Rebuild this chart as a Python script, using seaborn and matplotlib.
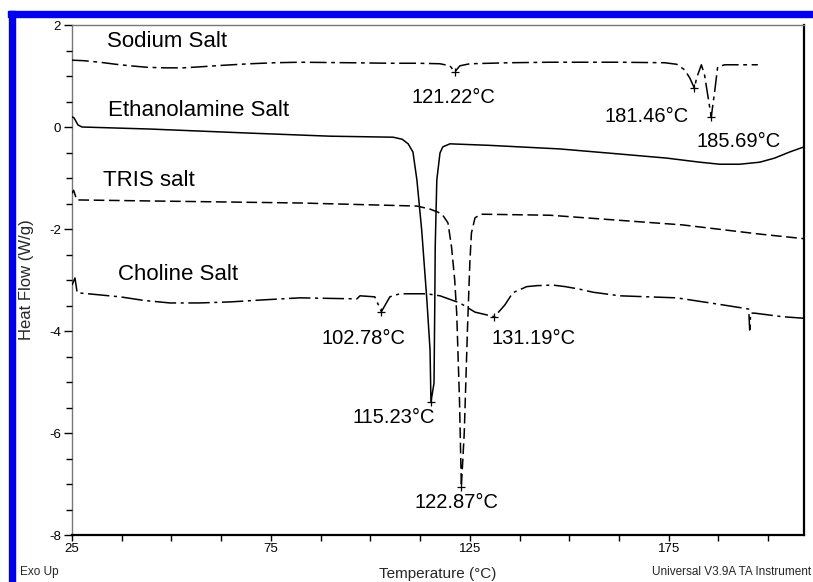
import matplotlib
matplotlib.use("Agg")
import matplotlib.pyplot as plt
import seaborn as sns
import pandas as pd
from matplotlib.patches import Rectangle
from matplotlib.ticker import MultipleLocator, FixedLocator

# ---------------- data ----------------
sodium_t = [25, 28.0, 32.0, 36.0, 39.6, 44.0, 48.4, 53.0, 57.2, 63.0, 69.7, 76.0, 82.3, 95.0,
            104.9, 112.0, 117.5, 120.0, 121.22, 122.5, 125.0, 135.0,
            145.1, 162.7, 174.0, 177.0, 179.0, 180.3, 181.46, 182.0, 183.2, 184.0, 185.0, 185.69,
            186.6, 187.3, 189.1, 197.4]
sodium_y = [1.31, 1.30, 1.27, 1.23, 1.20, 1.17, 1.16, 1.16, 1.18, 1.21, 1.24, 1.26, 1.27, 1.26,
            1.25, 1.25, 1.24, 1.20, 1.08, 1.20, 1.24, 1.26,
            1.27, 1.27, 1.26, 1.23, 1.12, 0.96, 0.76, 0.96, 1.22, 1.02, 0.53, 0.20,
            0.73, 1.18, 1.22, 1.22]

ethan_t = [25, 25.5, 26.5, 27.5, 44.6, 69.7, 89.8, 105.7, 108.0, 109.5, 110.7, 111.7, 112.9, 114.2,
           115.0, 115.23, 116.0, 116.2, 116.3, 116.7, 117.5, 118.2, 120.0, 130.0, 147.6, 162.7,
           174.5, 182.8, 187.8, 192.8, 197.9, 201.6, 205.4, 209.0]
ethan_y = [0.20, 0.18, 0.04, 0.00, -0.04, -0.12, -0.18, -0.20, -0.24, -0.33, -0.49, -1.04, -2.02, -3.39,
           -4.37, -5.39, -5.02, -3.39, -2.35, -1.04, -0.51, -0.39, -0.33, -0.36, -0.43, -0.53,
           -0.61, -0.69, -0.73, -0.73, -0.69, -0.61, -0.49, -0.39]

tris_t = [25, 25.4, 26.2, 44.6, 82.3, 111.7, 115.0, 117.0, 118.2, 119.5, 120.4, 121.2, 121.7,
          122.4, 122.87, 123.6, 124.4, 125.0, 125.4, 126.3, 127.9, 145.1, 178.5, 197.9, 209.0]
tris_y = [-1.30, -1.24, -1.43, -1.45, -1.49, -1.55, -1.61, -1.67, -1.73, -1.88, -2.35, -3.00, -3.65,
          -5.35, -7.05, -6.00, -3.98, -2.67, -2.08, -1.78, -1.71, -1.73, -1.92, -2.10, -2.19]

chol_t = [25, 25.75, 26.3, 37.1, 43.0, 49.6, 57.0, 64.7, 73.0, 82.3, 96.6, 97.4, 101.1, 102.78, 104.9,
          107.4, 114.2, 117.5, 122.5, 126.3, 131.19, 133.8, 135.8, 139.3, 142.0, 145.9, 149.0,
          152.6, 156.0, 162.7, 177.0, 187.1, 193.6, 195.1, 195.35, 195.6, 196.6, 203.6, 209.0]
chol_y = [-3.10, -2.96, -3.25, -3.33, -3.40, -3.45, -3.45, -3.43, -3.39, -3.35, -3.37, -3.31, -3.33,
          -3.62, -3.33, -3.27, -3.27, -3.31, -3.45, -3.63, -3.72, -3.49, -3.25, -3.13, -3.11, -3.10,
          -3.13, -3.18, -3.24, -3.31, -3.35, -3.47, -3.55, -3.57, -3.98, -3.65, -3.65, -3.72, -3.75]

peak_t = [121.22, 181.46, 185.69, 115.23, 122.87, 102.78, 131.19]
peak_y = [1.08, 0.76, 0.20, -5.39, -7.05, -3.62, -3.72]
peak_labels = ["121.22°C", "181.46°C", "185.69°C", "115.23°C", "122.87°C", "102.78°C", "131.19°C"]

series_names = ["Sodium Salt", "Ethanolamine Salt", "TRIS salt", "Choline Salt"]

x_ticks_major = [25, 75, 125, 175]
y_ticks_major = [2, 0, -2, -4, -6, -8]

# ---------------- figure ----------------
sns.set_theme(style="white")
plt.rcParams["font.family"] = ["Liberation Sans", "DejaVu Sans"]
plt.rcParams["axes.unicode_minus"] = False

fig = plt.figure(figsize=(8.13, 5.82), dpi=100)
ax = fig.add_axes([72 / 813, 1 - 535 / 582, (804 - 72) / 813, (535 - 25) / 582])

styles = {
    "Sodium Salt": (0, (11, 3, 2.5, 3)),
    "Ethanolamine Salt": "-",
    "TRIS salt": (0, (7, 3)),
    "Choline Salt": (0, (14, 3, 2, 3)),
}
data = {
    "Sodium Salt": (sodium_t, sodium_y),
    "Ethanolamine Salt": (ethan_t, ethan_y),
    "TRIS salt": (tris_t, tris_y),
    "Choline Salt": (chol_t, chol_y),
}
for name in series_names:
    t, y = data[name]
    df = pd.DataFrame({"T": t, "H": y})
    sns.lineplot(data=df, x="T", y="H", ax=ax, color="black", lw=1.1,
                 linestyle=styles[name], sort=False, estimator=None)

pk = pd.DataFrame({"T": peak_t, "H": peak_y})
sns.scatterplot(data=pk, x="T", y="H", ax=ax, marker="+", s=40, color="black",
                linewidth=0.9, zorder=5)

ax.set_xlim(25, 209)
ax.set_ylim(-8, 2)
ax.xaxis.set_major_locator(FixedLocator(x_ticks_major))
ax.xaxis.set_minor_locator(MultipleLocator(12.5))
ax.yaxis.set_major_locator(FixedLocator(y_ticks_major))
ax.yaxis.set_minor_locator(MultipleLocator(0.5))
ax.tick_params(axis="both", which="both", direction="out", labelsize=9.5, colors="black",
               bottom=True, left=True)
ax.tick_params(axis="x", which="both", length=4, width=1, pad=2)
ax.tick_params(axis="y", which="major", length=6, width=1, pad=2)
ax.tick_params(axis="y", which="minor", length=4, width=1)
ax.set_xlabel("")
ax.set_ylabel("")

for s in ["left", "top"]:
    ax.spines[s].set_color("#777777")
    ax.spines[s].set_linewidth(1.0)
for s in ["right", "bottom"]:
    ax.spines[s].set_color("black")
    ax.spines[s].set_linewidth(1.6)
ax.spines["left"].set_zorder(0)

# series labels
name_pos = {
    "Sodium Salt": (33.8, 1.67),
    "Ethanolamine Salt": (34.0, 0.33),
    "TRIS salt": (32.8, -1.04),
    "Choline Salt": (36.6, -2.90),
}
for name in series_names:
    x, y = name_pos[name]
    ax.text(x, y, name, fontsize=16, ha="left", va="center", color="black")

label_pos = [(110.4, 0.57, "left"), (158.9, 0.20, "left"), (182.0, -0.29, "left"),
             (116.2, -5.69, "right"), (111.2, -7.37, "left"), (87.8, -4.14, "left"),
             (130.5, -4.14, "left")]
for (x, y, ha), lab in zip(label_pos, peak_labels):
    ax.text(x, y, lab, fontsize=14.5, ha=ha, va="center", color="black")

# outer texts
fig.text(438 / 813, 1 - 574 / 582, "Temperature (°C)", fontsize=11, ha="center", va="center")
fig.text(27 / 813, 1 - 280 / 582, "Heat Flow (W/g)", fontsize=12, rotation=90,
         ha="center", va="center")
fig.text(20 / 813, 1 - 572 / 582, "Exo Up", fontsize=8.5, ha="left", va="center")
fig.text(811 / 813, 1 - 572 / 582, "Universal V3.9A TA Instrument", fontsize=8.5,
         ha="right", va="center")

# blue frame (top and left edges)
fig.patches.append(Rectangle((8 / 813, 1 - 17 / 582), 805 / 813, 6 / 582,
                             transform=fig.transFigure, color="#0000ee", zorder=10))
fig.patches.append(Rectangle((9 / 813, 0), 6 / 813, 1 - 11 / 582,
                             transform=fig.transFigure, color="#0000ee", zorder=10))

fig.savefig("out.png", dpi=100)
